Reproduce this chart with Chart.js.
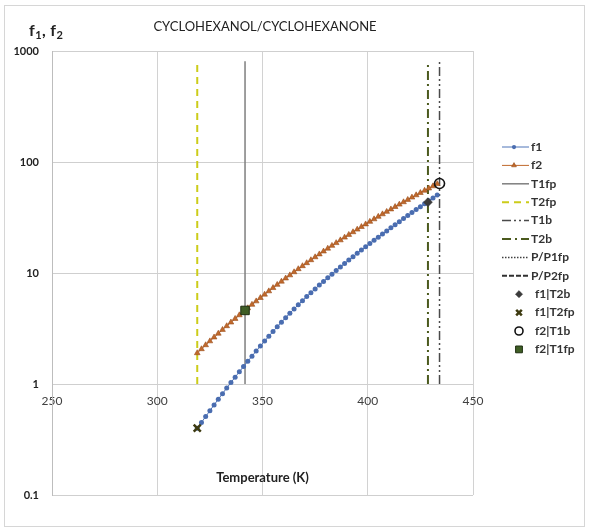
<!DOCTYPE html>
<html>
<head>
<meta charset="utf-8">
<script src="https://cdn.jsdelivr.net/npm/chart.js@4.4.1/dist/chart.umd.min.js"></script>
<style>
  html, body { margin: 0; padding: 0; background: #ffffff; }
  #wrap { position: relative; width: 589px; height: 531px; }
  canvas { display: block; }
</style>
</head>
<body>
<div id="wrap"><canvas id="c" width="589" height="531"></canvas></div>
<script>
// ---------- data ----------
const TITLE = 'CYCLOHEXANOL/CYCLOHEXANONE';
const X_TITLE = 'Temperature (K)';
const X_TICKS = [250, 300, 350, 400, 450];
const Y_TICKS = [0.1, 1, 10, 100, 1000];

const temperature = [319,321,323,325,327,329,331,333,335,337,339,341,343,345,347,349,351,353,355,357,
  359,361,363,365,367,369,371,373,375,377,379,381,383,385,387,389,391,393,395,397,
  399,401,403,405,407,409,411,413,415,417,419,421,423,425,427,429,431,433];
const f1 = [0.40,0.450,0.509,0.574,0.648,0.729,0.819,0.919,1.030,1.152,1.288,1.437,1.601,1.782,1.980,2.197,2.434,2.694,2.975,3.281,
  3.608,3.960,4.339,4.746,5.178,5.638,6.129,6.645,7.194,7.777,8.40,9.062,9.768,10.52,11.32,12.17,13.07,14.02,15.03,16.10,
  17.23,18.42,19.68,21.02,22.44,23.94,25.54,27.23,29.01,30.90,32.91,35.02,37.24,39.60,42.07,44.69,47.45,50.35];
const f2 = [1.90,2.065,2.242,2.431,2.633,2.849,3.081,3.327,3.592,3.871,4.172,4.49,4.829,5.188,5.57,5.974,6.404,6.86,7.34,7.849,
  8.385,8.955,9.556,10.19,10.86,11.56,12.3,13.08,13.9,14.76,15.67,16.62,17.62,18.66,19.76,20.91,22.11,23.37,24.68,26.06,
  27.5,29.0,30.56,32.19,33.9,35.67,37.52,39.45,41.45,43.54,45.72,47.97,50.31,52.76,55.27,57.9,60.61,63.45];

// characteristic temperatures (K)
const T1fp = 341.7;
const T2fp = 319.0;
const T1b = 434.1;
const T2b = 428.6;
// vertical line span (f values)
const V_LINE_RANGE = [1, 810];

// marker values
const f1_T2b = 43.5;
const f1_T2fp = 0.40;
const f2_T1b = 64.0;
const f2_T1fp = 4.6;

// ---------- build ----------
const xy = (xs, ys) => xs.map((x, i) => ({ x: x, y: ys[i] }));
const vline = (t) => V_LINE_RANGE.map(v => ({ x: t, y: v }));

const datasets = [
  { label: 'f1', data: xy(temperature, f1), borderColor: '#4f74b8', borderWidth: 1,
    pointStyle: 'circle', pointRadius: 2.5, pointBackgroundColor: '#4a6db0', pointBorderWidth: 0,
    order: 2, kind: 'line' },
  { label: 'f2', data: xy(temperature, f2), borderColor: '#c0692c', borderWidth: 1,
    pointStyle: 'triangle', pointRadius: 3.3, pointBackgroundColor: '#c0692c', pointBorderColor: '#9a4f1c', pointBorderWidth: 0.6,
    order: 1, kind: 'line' },
  { label: 'T1fp', data: vline(T1fp), borderColor: '#7f7f7f', borderWidth: 1.5, pointRadius: 0, order: 3, kind: 'line' },
  { label: 'T2fp', data: vline(T2fp), borderColor: '#cccc1a', borderWidth: 2, borderDash: [7, 5], pointRadius: 0, order: 3, kind: 'line' },
  { label: 'T1b', data: vline(T1b), borderColor: '#4a4a4a', borderWidth: 1.5, borderDash: [9, 3, 2, 3, 2, 3], pointRadius: 0, order: 3, kind: 'line' },
  { label: 'T2b', data: vline(T2b), borderColor: '#4b5a1e', borderWidth: 2, borderDash: [9, 4, 2, 4], pointRadius: 0, order: 3, kind: 'line' },
  { label: 'P/P1fp', data: [], borderColor: '#404040', borderWidth: 1.5, borderDash: [1.5, 1.5], pointRadius: 0, order: 3, kind: 'line' },
  { label: 'P/P2fp', data: [], borderColor: '#303030', borderWidth: 2, borderDash: [5, 2], pointRadius: 0, order: 3, kind: 'line' },
  { label: 'f1|T2b', data: [{ x: T2b, y: f1_T2b }], showLine: false, pointStyle: 'rectRot', pointRadius: 4.5,
    pointBackgroundColor: '#3b3b3b', pointBorderColor: '#3b3b3b', pointBorderWidth: 0.5, order: 0, kind: 'marker' },
  { label: 'f1|T2fp', data: [{ x: T2fp, y: f1_T2fp }], showLine: false, pointStyle: 'crossRot', pointRadius: 5,
    pointBackgroundColor: '#3d3a10', pointBorderColor: '#3d3a10', pointBorderWidth: 2.5, order: 0, kind: 'marker' },
  { label: 'f2|T1b', data: [{ x: T1b, y: f2_T1b }], showLine: false, pointStyle: 'circle', pointRadius: 5,
    pointBackgroundColor: 'rgba(255,255,255,0)', pointBorderColor: '#111111', pointBorderWidth: 1.6, order: 0, kind: 'marker' },
  { label: 'f2|T1fp', data: [{ x: T1fp, y: f2_T1fp }], showLine: false, pointStyle: 'rect', pointRadius: 6,
    pointBackgroundColor: '#3f5e25', pointBorderColor: '#1f2e12', pointBorderWidth: 1, order: 0, kind: 'marker' }
];

const FONT = 'Lato, "Open Sans", sans-serif';

const decor = {
  id: 'decor',
  beforeDraw(chart) {
    const ctx = chart.ctx;
    ctx.save();
    ctx.fillStyle = '#ffffff';
    ctx.fillRect(0, 0, chart.width, chart.height);
    ctx.strokeStyle = '#d6d6d6';
    ctx.lineWidth = 1;
    ctx.strokeRect(4.5, 5.5, 580, 521);
    ctx.restore();
  },
  afterDraw(chart) {
    const ctx = chart.ctx;
    const area = chart.chartArea;
    ctx.save();
    // title
    ctx.fillStyle = '#222222';
    ctx.textAlign = 'center';
    ctx.textBaseline = 'middle';
    ctx.font = '13px ' + FONT;
    ctx.fillText(TITLE, 265, 27);
    // x axis title
    ctx.font = 'bold 13px ' + FONT;
    ctx.fillText(X_TITLE, (area.left + area.right) / 2, 478);
    // y axis label f1, f2 with subscripts
    ctx.textAlign = 'left';
    ctx.textBaseline = 'alphabetic';
    const parts = [['f', false], ['1', true], [', ', false], ['f', false], ['2', true]];
    let x = 29;
    parts.forEach(([s, sub]) => {
      ctx.font = (sub ? 'bold 11px ' : 'bold 16px ') + FONT;
      ctx.fillText(s, x, sub ? 39 : 36);
      x += ctx.measureText(s).width + 0.5;
    });
    // legend
    const x0 = 502, x1 = 529, yStart = 147, step = 18.4;
    chart.data.datasets.forEach((ds, i) => {
      const y = yStart + i * step;
      if (ds.kind === 'line') {
        ctx.save();
        ctx.strokeStyle = ds.borderColor;
        ctx.lineWidth = ds.borderWidth;
        ctx.setLineDash(ds.borderDash || []);
        ctx.beginPath();
        ctx.moveTo(x0, y);
        ctx.lineTo(x1, y);
        ctx.stroke();
        ctx.restore();
        if (ds.pointRadius > 0) {
          ctx.save();
          ctx.fillStyle = ds.pointBackgroundColor;
          ctx.strokeStyle = ds.pointBorderColor || ds.pointBackgroundColor;
          ctx.lineWidth = ds.pointBorderWidth || 0;
          Chart.helpers.drawPoint(ctx, { pointStyle: ds.pointStyle, radius: ds.pointRadius * 0.85, rotation: 0, borderWidth: ds.pointBorderWidth || 0 }, 514, y);
          ctx.restore();
        }
      } else {
        ctx.save();
        ctx.fillStyle = ds.pointBackgroundColor;
        ctx.strokeStyle = ds.pointBorderColor;
        ctx.lineWidth = ds.pointBorderWidth;
        Chart.helpers.drawPoint(ctx, { pointStyle: ds.pointStyle, radius: ds.pointRadius * 0.8, rotation: 0, borderWidth: ds.pointBorderWidth }, 519, y);
        ctx.restore();
      }
      ctx.fillStyle = '#333333';
      ctx.font = 'bold 12px ' + FONT;
      ctx.textBaseline = 'middle';
      ctx.textAlign = 'left';
      ctx.fillText(ds.label, ds.kind === 'line' ? 531 : 535, y);
    });
    ctx.restore();
  }
};

new Chart(document.getElementById('c'), {
  type: 'line',
  data: { datasets: datasets },
  options: {
    responsive: false,
    animation: false,
    devicePixelRatio: 1,
    layout: { padding: { left: 0, top: 51, right: 116, bottom: 36 } },
    plugins: { legend: { display: false }, title: { display: false }, tooltip: { enabled: false } },
    elements: { line: { tension: 0 } },
    scales: {
      x: {
        type: 'linear',
        position: { y: 1 },
        min: 250, max: 450,
        afterBuildTicks: (s) => { s.ticks = X_TICKS.map(v => ({ value: v })); },
        afterFit: (s) => { s.height = 0; },
        ticks: { color: '#404040', font: { family: FONT, size: 12 }, padding: 10, callback: (v) => String(v) },
        grid: { color: '#d2d2d2', lineWidth: 1, drawTicks: false },
        border: { display: false }
      },
      y: {
        type: 'logarithmic',
        position: 'left',
        min: 0.1, max: 1000,
        afterBuildTicks: (s) => { s.ticks = Y_TICKS.map(v => ({ value: v })); },
        afterFit: (s) => { s.width = 52; },
        ticks: { color: '#222222', font: { family: FONT, size: 11, weight: 'bold' }, padding: 13, callback: (v) => String(v) },
        grid: { color: '#cfcfcf', lineWidth: 1, drawTicks: false },
        border: { display: true, color: '#bdbdbd', width: 1 }
      }
    }
  },
  plugins: [decor]
});
</script>
</body>
</html>
